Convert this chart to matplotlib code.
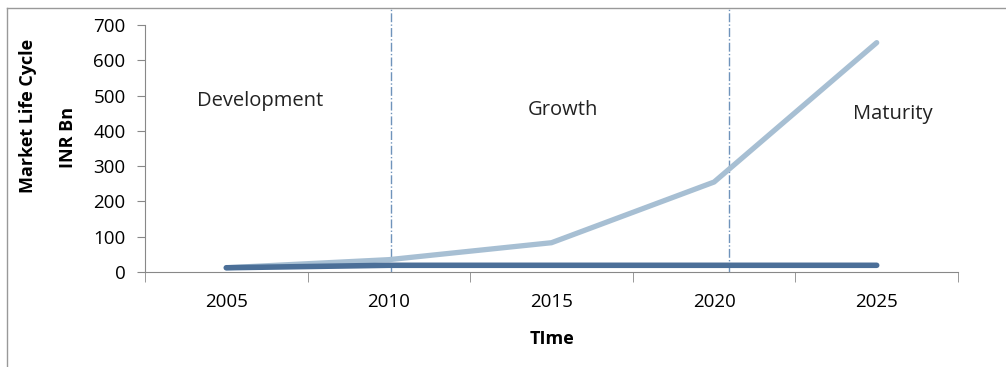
import matplotlib.pyplot as plt
import numpy as np

years = ['2005', '2010', '2015', '2020', '2025']
market = [12, 35, 83, 255, 650]
base = [12, 19, 19, 19, 19]
phases = ['Development', 'Growth', 'Maturity']
phase_x = [0.21, 2.07, 4.1]
phase_y = [485, 460, 448]
dividers = [1.01, 3.09]

plt.rcParams['font.family'] = ['Open Sans', 'DejaVu Sans']

fig = plt.figure(figsize=(10.06, 3.67), dpi=100)
ax = fig.add_axes([145/1006, 1 - 272/367, (958-145)/1006, (272-25)/367])

x = np.arange(len(years))
ax.plot(x, market, color='#a7bfd3', lw=3.8, solid_capstyle='round', zorder=3)
ax.plot(x, base, color='#4b6f98', lw=4, solid_capstyle='round', zorder=4)

for d in dividers:
    ax.plot([d, d], [0, 748], color='#6f93bb', lw=1, ls='-.', clip_on=False, zorder=2)

for name, px, py in zip(phases, phase_x, phase_y):
    ax.text(px, py, name, ha='center', va='center', fontsize=14.5, color='#222222')

ax.set_xlim(-0.5, 4.5)
ax.set_ylim(0, 700)
ax.set_yticks(range(0, 701, 100))
ax.set_xticks(x)
ax.set_xticklabels(years)
ax.set_xticks(np.arange(-0.5, 4.6, 1), minor=True)
ax.tick_params(axis='x', which='major', length=0, pad=15, labelsize=13.5)
ax.tick_params(axis='x', which='minor', length=7, color='#888888', direction='out')
ax.tick_params(axis='y', length=6, color='#888888', labelsize=13.5, pad=8)
for s in ['top', 'right']:
    ax.spines[s].set_visible(False)
for s in ['left', 'bottom']:
    ax.spines[s].set_color('#888888')

ax.set_xlabel('TIme', fontsize=13, fontweight='bold', labelpad=14)
fig.text(28/1006, 1 - 116/367, 'Market Life Cycle', rotation=90, ha='center', va='center',
         fontsize=13, fontweight='bold')
fig.text(68/1006, 1 - 137/367, 'INR Bn', rotation=90, ha='center', va='center',
         fontsize=13, fontweight='bold')

# outer frame
fig.add_artist(plt.Line2D([7/1006, 7/1006], [0, 1 - 8/367], color='#999999', lw=1))
fig.add_artist(plt.Line2D([7/1006, 1], [1 - 8/367, 1 - 8/367], color='#999999', lw=1))

fig.savefig('out.png', dpi=100)
